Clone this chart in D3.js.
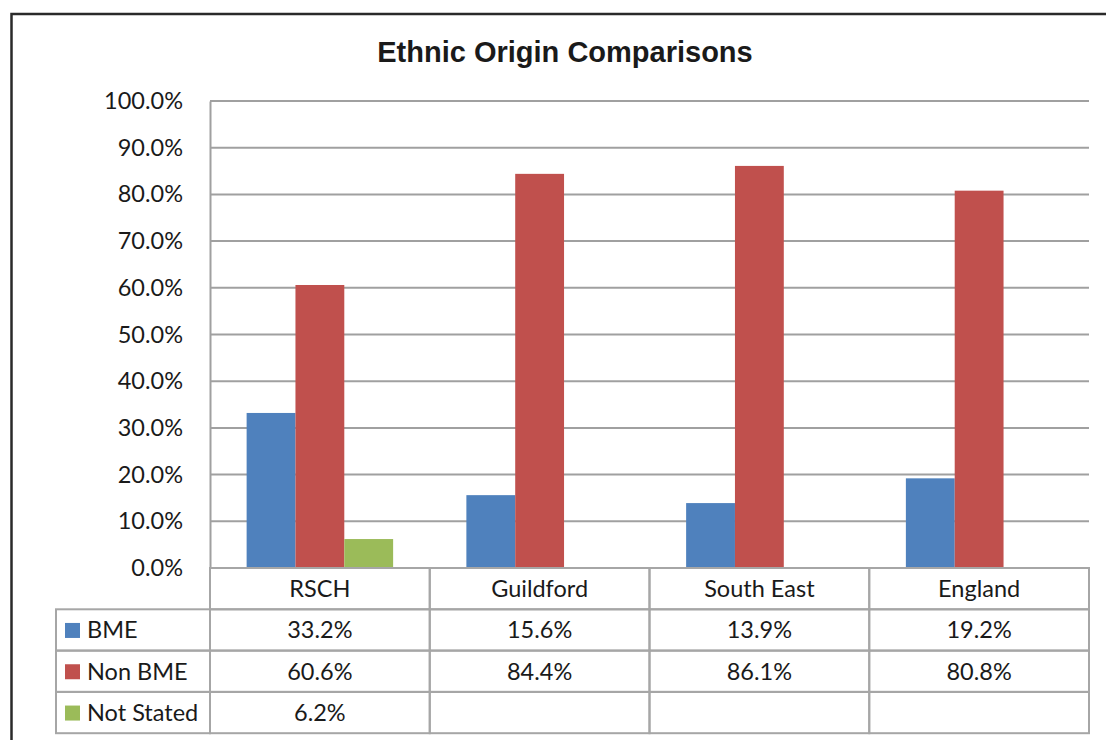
<!DOCTYPE html>
<meta charset="utf-8">
<style>
    body { margin: 0; background: #fff; }
    text { font-family: Lato, "Open Sans", sans-serif; fill: #1a1a1a; }
    .title { font-family: "Liberation Sans", Arial, sans-serif; font-weight: bold; font-size: 29px; }
    .grid line { stroke: #a0a0a0; stroke-width: 2px; }
    .cell { fill: none; stroke: #a6a6a6; stroke-width: 2px; }
</style>
<svg width="1106" height="740"></svg>
<script src="https://d3js.org/d3.v7.min.js"></script>
<script>
    const categories = ["RSCH", "Guildford", "South East", "England"];
    const seriesNames = ["BME", "Non BME", "Not Stated"];
    const seriesColors = ["#4F81BD", "#C0504D", "#9BBB59"];
    const bme = [33.2, 15.6, 13.9, 19.2];
    const nonBme = [60.6, 84.4, 86.1, 80.8];
    const notStated = [6.2, null, null, null];
    const yTicks = [0, 10, 20, 30, 40, 50, 60, 70, 80, 90, 100];

    const seriesValues = [bme, nonBme, notStated];
    const fontSize = "23.5px";

    const svg = d3.select("svg");

    // outer chart frame (runs off the right and bottom of the picture)
    svg.append("rect")
        .attr("x", 11.5).attr("y", 14)
        .attr("width", 1108).attr("height", 760)
        .attr("fill", "none")
        .attr("stroke", "#2a2a2a")
        .attr("stroke-width", 2.5);

    svg.append("text")
        .attr("class", "title")
        .attr("x", 565).attr("y", 62)
        .attr("text-anchor", "middle")
        .text("Ethnic Origin Comparisons");

    const plotLeft = 210, plotRight = 1089, plotTop = 101, plotBottom = 568;
    const tableLeft = 56;
    const rowH = 41.3;

    const x = d3.scaleBand().domain(categories).range([plotLeft, plotRight]);
    const y = d3.scaleLinear().domain([0, 100]).range([plotBottom, plotTop]);
    const xs = d3.scaleBand().domain(seriesNames).range([0, x.bandwidth()]).paddingOuter(0.75);

    // gridlines
    svg.append("g").attr("class", "grid")
        .selectAll("line").data(yTicks).enter().append("line")
        .attr("x1", plotLeft).attr("x2", plotRight)
        .attr("y1", d => y(d)).attr("y2", d => y(d));

    // y axis labels
    const yAxis = d3.axisLeft(y).tickValues(yTicks).tickSize(0).tickPadding(27)
        .tickFormat(d => d.toFixed(1) + "%");
    const ya = svg.append("g").attr("transform", "translate(" + plotLeft + ",0)").call(yAxis);
    ya.select(".domain").attr("stroke", "#a0a0a0").attr("stroke-width", 2);
    ya.selectAll("text").style("font-family", "Lato, sans-serif").style("font-size", fontSize).attr("fill", "#1a1a1a");

    // bars
    seriesNames.forEach((s, si) => {
        svg.append("g").selectAll("rect")
            .data(categories.map((c, i) => ({ c: c, v: seriesValues[si][i] })).filter(d => d.v != null))
            .enter().append("rect")
            .attr("x", d => x(d.c) + xs(s))
            .attr("width", xs.bandwidth())
            .attr("y", d => y(d.v))
            .attr("height", d => y(0) - y(d.v))
            .attr("fill", seriesColors[si]);
    });

    // data table
    const table = svg.append("g");
    // category header row
    categories.forEach(c => {
        table.append("rect").attr("class", "cell")
            .attr("x", x(c)).attr("y", plotBottom)
            .attr("width", x.bandwidth()).attr("height", rowH);
        table.append("text")
            .attr("x", x(c) + x.bandwidth() / 2).attr("y", plotBottom + rowH / 2)
            .attr("dy", "0.36em").attr("text-anchor", "middle")
            .style("font-size", fontSize).text(c);
    });

    seriesNames.forEach((s, si) => {
        const ry = plotBottom + rowH * (si + 1);
        table.append("rect").attr("class", "cell")
            .attr("x", tableLeft).attr("y", ry)
            .attr("width", plotLeft - tableLeft).attr("height", rowH);
        table.append("rect")
            .attr("x", tableLeft + 9).attr("y", ry + rowH / 2 - 7)
            .attr("width", 15).attr("height", 15)
            .attr("fill", seriesColors[si]);
        table.append("text")
            .attr("x", tableLeft + 31).attr("y", ry + rowH / 2)
            .attr("dy", "0.36em")
            .style("font-size", fontSize).text(s);
        categories.forEach((c, i) => {
            table.append("rect").attr("class", "cell")
                .attr("x", x(c)).attr("y", ry)
                .attr("width", x.bandwidth()).attr("height", rowH);
            const v = seriesValues[si][i];
            if (v != null) {
                table.append("text")
                    .attr("x", x(c) + x.bandwidth() / 2).attr("y", ry + rowH / 2)
                    .attr("dy", "0.36em").attr("text-anchor", "middle")
                    .style("font-size", fontSize).text(v.toFixed(1) + "%");
            }
        });
    });
</script>
